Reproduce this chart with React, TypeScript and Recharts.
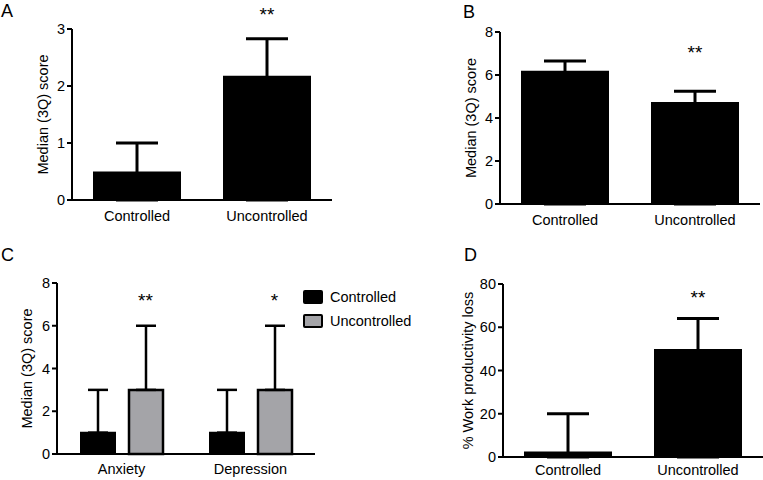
import React from 'react';
import { BarChart, Bar, XAxis, YAxis, ErrorBar, ReferenceDot, Legend } from 'recharts';

// Panel A - median score with 3rd quartile
const groups = ['Controlled', 'Uncontrolled'];
const medianA = [0.5, 2.18];
const q3A = [1.0, 2.83];
const starsA = ['', '**'];

// Panel B
const medianB = [6.2, 4.75];
const q3B = [6.65, 5.25];
const starsB = ['', '**'];

// Panel C - anxiety / depression
const domainsC = ['Anxiety', 'Depression'];
const controlledC = [1, 1];
const controlledQ3C = [3, 3];
const uncontrolledC = [3, 3];
const uncontrolledQ3C = [6, 6];
const starsC = ['**', '*'];

// Panel D - work productivity loss
const medianD = [2.5, 50];
const q3D = [20, 64];
const starsD = ['', '**'];

const FONT = '"Liberation Sans", Arial, Helvetica, sans-serif';
const GRAY = '#a4a4a8';

const tickStyle = { fill: '#000', fontSize: 14.5, fontFamily: FONT };
const axisLine = { stroke: '#000', strokeWidth: 2 };

// lower whisker runs down inside the black bar, so only the upper one shows
const toRows = (med: number[], q3: number[], stars: string[]) =>
  groups.map((g, i) => ({ name: g, value: med[i], err: [med[i], q3[i] - med[i]], star: stars[i] }));

const dataA = toRows(medianA, q3A, starsA);
const dataB = toRows(medianB, q3B, starsB);
const dataD = toRows(medianD, q3D, starsD);
const dataC = domainsC.map((d, i) => ({
  name: d,
  controlled: controlledC[i],
  cErr: [0, controlledQ3C[i] - controlledC[i]],
  uncontrolled: uncontrolledC[i],
  uErr: [0, uncontrolledQ3C[i] - uncontrolledC[i]],
  star: starsC[i],
}));

const starLabel = (text: string) => ({
  value: text,
  position: 'center' as const,
  fill: '#000',
  fontSize: 19,
  fontFamily: FONT,
});

interface SimpleProps {
  data: { name: string; value: number; err: number[]; star: string }[];
  width: number;
  height: number;
  top: number;
  bottom: number;
  tickGap: number;
  yWidth: number;
  domain: [number, number];
  ticks: number[];
  yLabel: string;
  labelX: number;
  starY: number;
}

function SimplePanel({ data, width, height, top, bottom, tickGap, yWidth, domain, ticks, yLabel, labelX, starY }: SimpleProps) {
  return (
    <BarChart
      width={width}
      height={height}
      data={data}
      margin={{ top, right: width - yWidth - 260, bottom: 0, left: 0 }}
      barSize={88}
    >
      <XAxis
        dataKey="name"
        height={bottom}
        axisLine={axisLine}
        tickLine={false}
        tickSize={0}
        tick={tickStyle}
        tickMargin={tickGap}
      />
      <YAxis
        width={yWidth}
        domain={domain}
        ticks={ticks}
        axisLine={axisLine}
        tickLine={{ stroke: '#000', strokeWidth: 2 }}
        tickSize={5}
        tick={tickStyle}
        label={{
          value: yLabel,
          angle: -90,
          position: 'insideLeft',
          offset: labelX,
          style: { textAnchor: 'middle', fill: '#000', fontSize: 14.5, fontFamily: FONT },
        }}
      />
      <Bar dataKey="value" fill="#000" isAnimationActive={false}>
        <ErrorBar dataKey="err" direction="y" width={21} stroke="#000" strokeWidth={3} />
      </Bar>
      {data
        .filter((d) => d.star)
        .map((d) => (
          <ReferenceDot
            key={d.name}
            x={d.name}
            y={starY}
            r={0}
            ifOverflow="visible"
            label={starLabel(d.star)}
          />
        ))}
    </BarChart>
  );
}

function LegendC() {
  const items = [
    { label: 'Controlled', fill: '#000' },
    { label: 'Uncontrolled', fill: GRAY },
  ];
  return (
    <div style={{ fontFamily: FONT, fontSize: 14.5, color: '#000' }}>
      {items.map((it) => (
        <div key={it.label} style={{ display: 'flex', alignItems: 'center', height: 24 }}>
          <div
            style={{
              width: 16,
              height: 10,
              background: it.fill,
              border: '2px solid #000',
              borderRadius: 2,
              marginRight: 7,
            }}
          />
          <span>{it.label}</span>
        </div>
      ))}
    </div>
  );
}

const letterStyle: React.CSSProperties = {
  position: 'absolute',
  fontFamily: FONT,
  fontSize: 18,
  color: '#000',
  lineHeight: 1,
};

export default function App() {
  return (
    <div style={{ position: 'absolute', left: 0, top: 0, width: 763, height: 480, background: '#fff', overflow: 'hidden' }}>
      <div style={{ ...letterStyle, left: 1, top: 2 }}>A</div>
      <div style={{ ...letterStyle, left: 463, top: 3 }}>B</div>
      <div style={{ ...letterStyle, left: 1, top: 246 }}>C</div>
      <div style={{ ...letterStyle, left: 464, top: 246 }}>D</div>

      <div style={{ position: 'absolute', left: 0, top: 0 }}>
        <SimplePanel
          data={dataA}
          width={380}
          height={240}
          top={29}
          bottom={40}
          tickGap={10.5}
          yWidth={72}
          domain={[0, 3]}
          ticks={[0, 1, 2, 3]}
          yLabel="Median (3Q) score"
          labelX={43}
          starY={3.25}
        />
      </div>

      <div style={{ position: 'absolute', left: 380, top: 0 }}>
        <SimplePanel
          data={dataB}
          width={383}
          height={240}
          top={32}
          bottom={36}
          tickGap={11}
          yWidth={120}
          domain={[0, 8]}
          ticks={[0, 2, 4, 6, 8]}
          yLabel="Median (3Q) score"
          labelX={91}
          starY={7.05}
        />
      </div>

      <div style={{ position: 'absolute', left: 0, top: 240 }}>
        <BarChart
          width={440}
          height={240}
          data={dataC}
          margin={{ top: 43, right: 125, bottom: 0, left: 0 }}
          barSize={34}
          barGap={14}
        >
          <XAxis
            dataKey="name"
            height={26}
            axisLine={axisLine}
            tickLine={false}
            tickSize={0}
            tick={tickStyle}
            tickMargin={10}
          />
          <YAxis
            width={57}
            domain={[0, 8]}
            ticks={[0, 2, 4, 6, 8]}
            axisLine={axisLine}
            tickLine={{ stroke: '#000', strokeWidth: 2 }}
            tickSize={5}
            tick={tickStyle}
            label={{
              value: 'Median (3Q) score',
              angle: -90,
              position: 'insideLeft',
              offset: 27,
              style: { textAnchor: 'middle', fill: '#000', fontSize: 14.5, fontFamily: FONT },
            }}
          />
          <Legend
            layout="vertical"
            align="center"
            verticalAlign="middle"
            content={() => <LegendC />}
            wrapperStyle={{ left: 303, top: 45, width: 'auto' }}
          />
          <Bar dataKey="controlled" fill="#000" stroke="#000" strokeWidth={2} isAnimationActive={false}>
            <ErrorBar dataKey="cErr" direction="y" width={10} stroke="#000" strokeWidth={2.5} />
          </Bar>
          <Bar dataKey="uncontrolled" fill={GRAY} stroke="#000" strokeWidth={2.5} isAnimationActive={false}>
            <ErrorBar dataKey="uErr" direction="y" width={10} stroke="#000" strokeWidth={2.5} />
          </Bar>
          {dataC.map((d) => (
            <ReferenceDot
              key={d.name}
              x={d.name}
              y={7.2}
              r={0}
              ifOverflow="visible"
              label={{ ...starLabel(d.star), dx: 24 }}
            />
          ))}
        </BarChart>
      </div>

      <div style={{ position: 'absolute', left: 380, top: 240 }}>
        <SimplePanel
          data={dataD}
          width={383}
          height={240}
          top={44}
          bottom={23}
          tickGap={8}
          yWidth={123}
          domain={[0, 80]}
          ticks={[0, 20, 40, 60, 80]}
          yLabel="% Work productivity loss"
          labelX={88}
          starY={74}
        />
      </div>
    </div>
  );
}
